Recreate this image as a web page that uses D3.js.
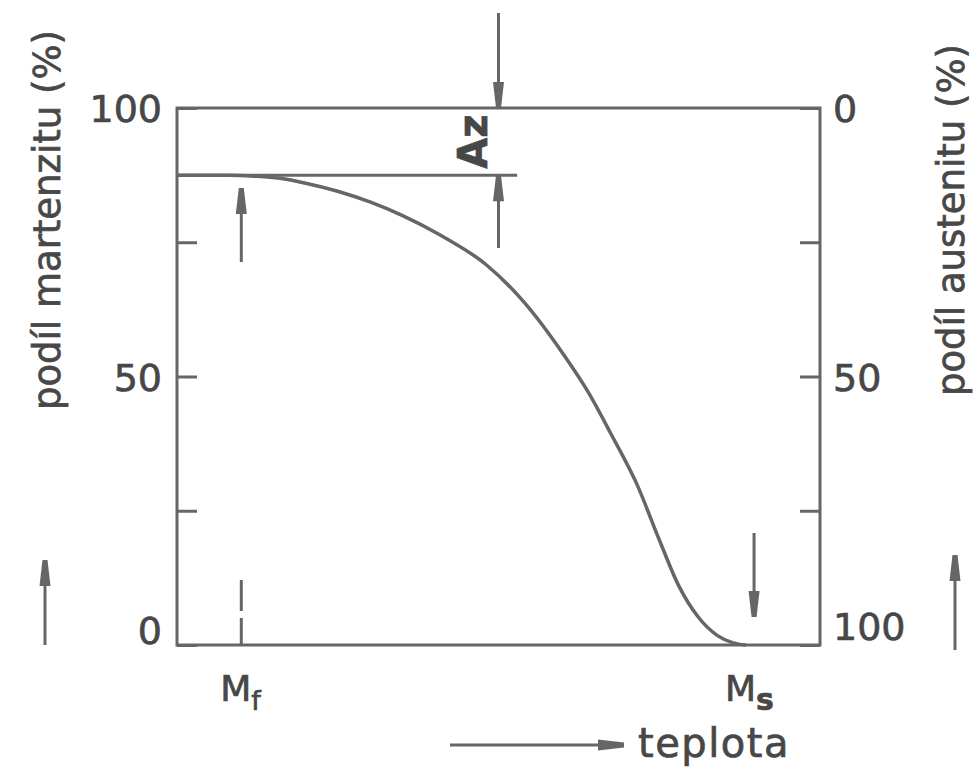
<!DOCTYPE html>
<html>
<head>
<meta charset="utf-8">
<script src="https://cdn.jsdelivr.net/npm/d3@7"></script>
<style>
  html, body { margin: 0; padding: 0; background: #fff; }
  svg { display: block; }
  text { font-family: "DejaVu Sans", sans-serif; fill: #474747; stroke: #474747; stroke-width: 0.7px; }
</style>
</head>
<body>
<svg id="chart" width="976" height="769"></svg>
<script>
// Martensite fraction vs. temperature (relative temperature scale 0..100)
const temperature = [0, 8, 12, 16, 20, 25, 30, 35, 41, 48, 54, 60, 64, 67.5, 71.5, 75, 78, 81, 84, 86.5, 88.5];
const martensite  = [87.5, 87.5, 87.3, 86.9, 86.0, 84.5, 82.5, 80.0, 76.3, 70.9, 63.8, 54.3, 47, 39.3, 30, 19.6, 11.1, 5.3, 1.8, 0.4, 0];

const leftTicks  = [0, 25, 50, 75, 100];
const leftLabels = [0, 50, 100];
const rightTicks  = [0, 25, 50, 75, 100];
const rightLabels = [0, 50, 100];

const tempMf = 10;     // martensite finish
const tempMs = 88.5;   // martensite start
const maxMartensite = 87.5;  // plateau; the rest is retained austenite Az
const azTemp = 50;

const leftTitle  = "podíl martenzitu (%)";
const rightTitle = "podíl austenitu (%)";
const xTitle = "teplota";

const ink = "#666";
const svg = d3.select("#chart");

const x  = d3.scaleLinear().domain([0, 100]).range([177, 820]);
const y  = d3.scaleLinear().domain([0, 100]).range([645, 108]);
const yR = d3.scaleLinear().domain([0, 100]).range([108, 645]);

// arrowhead: narrow tapered head, tip at (0,0) pointing up
const headUp = "M-2.5,0 L2.5,0 L5.5,26 L-5.5,26 Z";

function arrow(g, x1, y1, x2, y2) {
  g.append("line").attr("x1", x1).attr("y1", y1).attr("x2", x2).attr("y2", y2)
    .attr("stroke", ink).attr("stroke-width", 3);
  const ang = Math.atan2(y2 - y1, x2 - x1) * 180 / Math.PI + 90;
  g.append("path").attr("d", headUp)
    .attr("transform", `translate(${x2},${y2}) rotate(${ang})`)
    .attr("fill", ink);
}

function styleTicks(ax) {
  ax.select(".domain").remove();
  ax.selectAll(".tick line").attr("stroke", ink).attr("stroke-width", 3);
  ax.selectAll(".tick text")
    .attr("font-size", 38).attr("font-family", "DejaVu Sans")
    .attr("fill", "#474747").attr("stroke", "#474747").attr("stroke-width", 0.7);
}

// left axis
const axL = svg.append("g").attr("transform", `translate(${x(0)},0)`)
  .call(d3.axisLeft(y).tickValues(leftTicks).tickSizeInner(-20).tickSizeOuter(0).tickPadding(15)
    .tickFormat(d => leftLabels.includes(d) ? d : ""));
styleTicks(axL);
axL.selectAll(".tick text").attr("dy", d => d === 0 ? "-0.05em" : "0.36em");

// right axis (austenite, reversed)
const axR = svg.append("g").attr("transform", `translate(${x(100)},0)`)
  .call(d3.axisRight(yR).tickValues(rightTicks).tickSizeInner(-20).tickSizeOuter(0).tickPadding(13)
    .tickFormat(d => rightLabels.includes(d) ? d : ""));
styleTicks(axR);
axR.selectAll(".tick text").attr("dy", d => d === 100 ? "-0.15em" : "0.36em");

// frame
svg.append("rect")
  .attr("x", x(0)).attr("y", y(100))
  .attr("width", x(100) - x(0)).attr("height", y(0) - y(100))
  .attr("fill", "none").attr("stroke", ink).attr("stroke-width", 3);

// plateau line (maximum martensite)
svg.append("line")
  .attr("x1", x(0)).attr("x2", x(52.9))
  .attr("y1", y(maxMartensite)).attr("y2", y(maxMartensite))
  .attr("stroke", ink).attr("stroke-width", 3);

// transformation curve
const pts = temperature.map((t, i) => [t, martensite[i]]);
svg.append("path")
  .datum(pts)
  .attr("d", d3.line().x(d => x(d[0])).y(d => y(d[1])).curve(d3.curveMonotoneX))
  .attr("fill", "none").attr("stroke", ink).attr("stroke-width", 3.5);

const ann = svg.append("g");

// Az dimension arrows
arrow(ann, x(azTemp), 13, x(azTemp), y(100));
arrow(ann, x(azTemp), 248, x(azTemp), y(maxMartensite));
svg.append("text")
  .attr("transform", `translate(${x(azTemp) - 12},${(y(100) + y(maxMartensite)) / 2}) rotate(-90)`)
  .attr("text-anchor", "middle").attr("font-size", 40).attr("font-weight", "bold")
  .text("Az");

// Mf marker
arrow(ann, x(tempMf), 262, x(tempMf), 188);
svg.append("line")
  .attr("x1", x(tempMf)).attr("x2", x(tempMf)).attr("y1", 580).attr("y2", y(0))
  .attr("stroke", ink).attr("stroke-width", 3).attr("stroke-dasharray", "31,7,40");

// Ms marker
arrow(ann, x(tempMs) + 8, 533, x(tempMs) + 8, 617);

// M_f and M_s labels
const mf = svg.append("text").attr("x", x(tempMf) - 21).attr("y", 701).attr("font-size", 36);
mf.append("tspan").text("M");
mf.append("tspan").attr("dy", 9).attr("font-size", 27).text("f");
const ms = svg.append("text").attr("x", x(tempMs) - 21).attr("y", 701).attr("font-size", 36);
ms.append("tspan").text("M");
ms.append("tspan").attr("dy", 9).attr("font-size", 30).attr("font-weight", "bold").text("s");

// temperature title with arrow
arrow(ann, 450, 745, 624, 745);
svg.append("text").attr("x", 638).attr("y", 757).attr("font-size", 40)
  .attr("letter-spacing", 1.5).text(xTitle);

// vertical titles with arrows
svg.append("text")
  .attr("transform", `translate(60,220) rotate(-90)`)
  .attr("text-anchor", "middle").attr("font-size", 37).text(leftTitle);
arrow(ann, 45, 645, 45, 560);

svg.append("text")
  .attr("transform", `translate(964,220) rotate(-90)`)
  .attr("text-anchor", "middle").attr("font-size", 37).text(rightTitle);
arrow(ann, 955, 650, 955, 555);
</script>
</body>
</html>
